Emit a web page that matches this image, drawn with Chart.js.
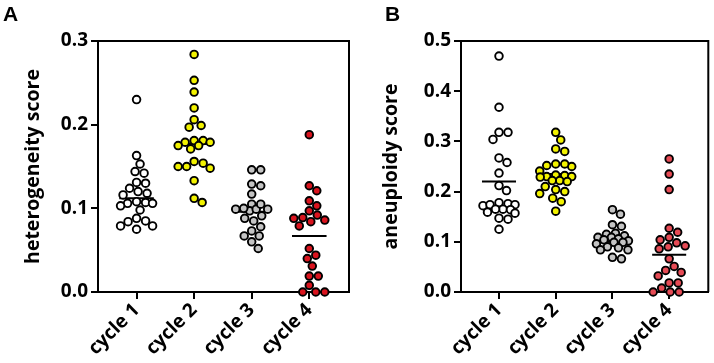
<!DOCTYPE html>
<html>
<head>
<meta charset="utf-8">
<script src="https://cdn.jsdelivr.net/npm/chart.js@4"></script>
<style>
  body { margin: 0; background: #fff; width: 714px; height: 363px; position: relative; overflow: hidden; }
  canvas { position: absolute; top: 0; }
  #chartA { left: 0; }
  #chartB { left: 357px; }
</style>
</head>
<body>
<canvas id="chartA" width="357" height="363"></canvas>
<canvas id="chartB" width="357" height="363"></canvas>
<script>
const categories = ['cycle 1', 'cycle 2', 'cycle 3', 'cycle 4'];

// A: heterogeneity score
const hetCycle1 = [0.230, 0.163, 0.153, 0.142, 0.144, 0.130, 0.131, 0.124, 0.120, 0.116, 0.118, 0.107, 0.108, 0.106, 0.106, 0.098, 0.103, 0.085, 0.084, 0.088, 0.075, 0.079, 0.079];
const hetCycle2 = [0.284, 0.253, 0.239, 0.220, 0.206, 0.199, 0.197, 0.181, 0.181, 0.179, 0.179, 0.175, 0.175, 0.171, 0.156, 0.154, 0.150, 0.150, 0.148, 0.133, 0.112, 0.107];
const hetCycle3 = [0.146, 0.146, 0.127, 0.129, 0.117, 0.105, 0.099, 0.097, 0.099, 0.099, 0.105, 0.091, 0.100, 0.085, 0.078, 0.088, 0.073, 0.067, 0.067, 0.060, 0.052];
const hetCycle4 = [0.188, 0.127, 0.121, 0.109, 0.103, 0.097, 0.084, 0.086, 0.089, 0.088, 0.092, 0.079, 0.052, 0.044, 0.040, 0.031, 0.019, 0.019, 0.008, 0.000, 0.000, 0.000];
const hetMeans = [0.112, 0.177, 0.096, 0.067];
const hetTicks = [0, 0.1, 0.2, 0.3];

// B: aneuploidy score
const aneuCycle1 = [0.470, 0.368, 0.318, 0.318, 0.304, 0.267, 0.258, 0.237, 0.212, 0.202, 0.176, 0.178, 0.172, 0.174, 0.174, 0.165, 0.164, 0.157, 0.165, 0.159, 0.147, 0.145, 0.125];
const aneuCycle2 = [0.318, 0.303, 0.285, 0.280, 0.255, 0.252, 0.250, 0.255, 0.241, 0.233, 0.230, 0.229, 0.232, 0.230, 0.222, 0.220, 0.222, 0.210, 0.196, 0.204, 0.200, 0.180, 0.187, 0.161];
const aneuCycle3 = [0.164, 0.155, 0.134, 0.131, 0.117, 0.115, 0.112, 0.109, 0.109, 0.106, 0.104, 0.102, 0.099, 0.099, 0.096, 0.090, 0.088, 0.084, 0.084, 0.069, 0.066];
const aneuCycle4 = [0.265, 0.235, 0.204, 0.127, 0.119, 0.109, 0.104, 0.092, 0.098, 0.090, 0.086, 0.066, 0.039, 0.043, 0.051, 0.032, 0.018, 0.008, 0.018, 0.000, 0.000, 0.000];
const aneuMeans = [0.220, 0.235, 0.100, 0.074];
const aneuTicks = [0, 0.1, 0.2, 0.3, 0.4, 0.5];

const tickFont = { family: '"Open Sans", sans-serif', size: 19, weight: 'bold' };
const titleFont = { family: '"Open Sans", sans-serif', size: 19.5, weight: 'bold' };

// beeswarm: shift points sideways (pixels), keep within +-maxOff, allow overlap when crowded
function swarm(values, center, xs, ys, diam, maxOff) {
  const cx = xs.getPixelForValue(center);
  const order = values.map((v, i) => i).sort((a, b) => values[b] - values[a]);
  const cands = [];
  for (let o = 0; o <= maxOff; o += 0.5) { cands.push(o); if (o) cands.push(-o); }
  const placed = [];
  const out = new Array(values.length);
  order.forEach(i => {
    const py = ys.getPixelForValue(values[i]);
    let best = 0, bestD = -1;
    for (const o of cands) {
      let d = Infinity;
      placed.forEach(p => { d = Math.min(d, Math.hypot(p.x - (cx + o), p.y - py)); });
      if (d >= diam) { best = o; bestD = d; break; }
      if (d > bestD + 0.01) { best = o; bestD = d; }
    }
    placed.push({ x: cx + best, y: py });
    out[i] = { x: xs.getValueForPixel(cx + best), y: values[i] };
  });
  return out;
}

function makePanel(id, letter, letterX, yTitle, groups, means, ticks, fills, box) {
  const meanLine = [];
  means.forEach((m, i) => {
    meanLine.push({ x: i + 1 - 0.3, y: m }, { x: i + 1 + 0.3, y: m }, { x: i + 1.5, y: null });
  });

  const datasets = groups.map((g, i) => ({
    type: 'scatter',
    data: g.map(v => ({ x: i + 1, y: v })),
    backgroundColor: fills[i],
    borderColor: '#000',
    borderWidth: 1.9,
    pointRadius: 3.8,
    pointHoverRadius: 3.8,
    clip: false,
    order: 1
  }));
  datasets.push({
    type: 'line',
    data: meanLine,
    borderColor: '#000',
    borderWidth: 2,
    pointRadius: 0,
    spanGaps: false,
    clip: false,
    order: 2
  });

  const frame = {
    id: 'frame',
    beforeDatasetsDraw(chart) {
      const { ctx, chartArea: a } = chart;
      ctx.save();
      ctx.strokeStyle = '#000';
      ctx.lineWidth = 2;
      ctx.beginPath();
      ctx.moveTo(a.left, a.top);
      ctx.lineTo(a.right, a.top);
      ctx.lineTo(a.right, a.bottom);
      ctx.stroke();
      ctx.restore();
    },
    afterDraw(chart) {
      const ctx = chart.ctx;
      ctx.save();
      ctx.fillStyle = '#000';
      ctx.font = 'bold 21px "Liberation Sans", Arial, sans-serif';
      ctx.fillText(letter, letterX, 21);
      ctx.restore();
    }
  };

  const chart = new Chart(document.getElementById(id), {
    type: 'scatter',
    data: { datasets },
    options: {
      responsive: false,
      animation: false,
      events: [],
      layout: { padding: { top: box.top, right: box.right, left: 0, bottom: 0 } },
      plugins: { legend: { display: false }, tooltip: { enabled: false } },
      scales: {
        x: {
          type: 'linear',
          min: 0.33,
          max: 4.69,
          afterBuildTicks: s => { s.ticks = categories.map((c, i) => ({ value: i + 1 })); },
          afterFit: s => { s.height = box.bottom; },
          ticks: {
            autoSkip: false,
            minRotation: 45,
            maxRotation: 45,
            padding: 0,
            color: '#000',
            font: tickFont,
            callback: v => categories[v - 1]
          },
          grid: { display: true, drawOnChartArea: false, drawTicks: true, tickLength: 7, color: '#000', lineWidth: 2 },
          border: { display: true, color: '#000', width: 2 }
        },
        y: {
          min: ticks[0],
          max: ticks[ticks.length - 1],
          afterBuildTicks: s => { s.ticks = ticks.map(v => ({ value: v })); },
          afterFit: s => { s.width = box.left; },
          ticks: {
            padding: 3,
            color: '#000',
            font: tickFont,
            callback: v => v.toFixed(1)
          },
          title: { display: true, text: yTitle, color: '#000', font: titleFont, padding: { top: box.titlePad, bottom: 0 } },
          grid: { display: true, drawOnChartArea: false, drawTicks: true, tickLength: 7, color: '#000', lineWidth: 2 },
          border: { display: true, color: '#000', width: 2 }
        }
      }
    },
    plugins: [frame]
  });

  const xs = chart.scales.x, ys = chart.scales.y;
  groups.forEach((g, i) => {
    chart.data.datasets[i].data = swarm(g, i + 1, xs, ys, 9, 16);
  });
  chart.update('none');
}

makePanel('chartA', 'A', 3, 'heterogeneity score',
  [hetCycle1, hetCycle2, hetCycle3, hetCycle4], hetMeans, hetTicks,
  ['#ffffff', '#f2f200', '#c4c4c4', '#d9141e'],
  { top: 41, right: 8, bottom: 71, left: 98, titlePad: 22 });

makePanel('chartB', 'B', 28, 'aneuploidy score',
  [aneuCycle1, aneuCycle2, aneuCycle3, aneuCycle4], aneuMeans, aneuTicks,
  ['#ffffff', '#f2f200', '#c4c4c4', '#e64b55'],
  { top: 41, right: 1, bottom: 71, left: 104, titlePad: 23 });
</script>
</body>
</html>
